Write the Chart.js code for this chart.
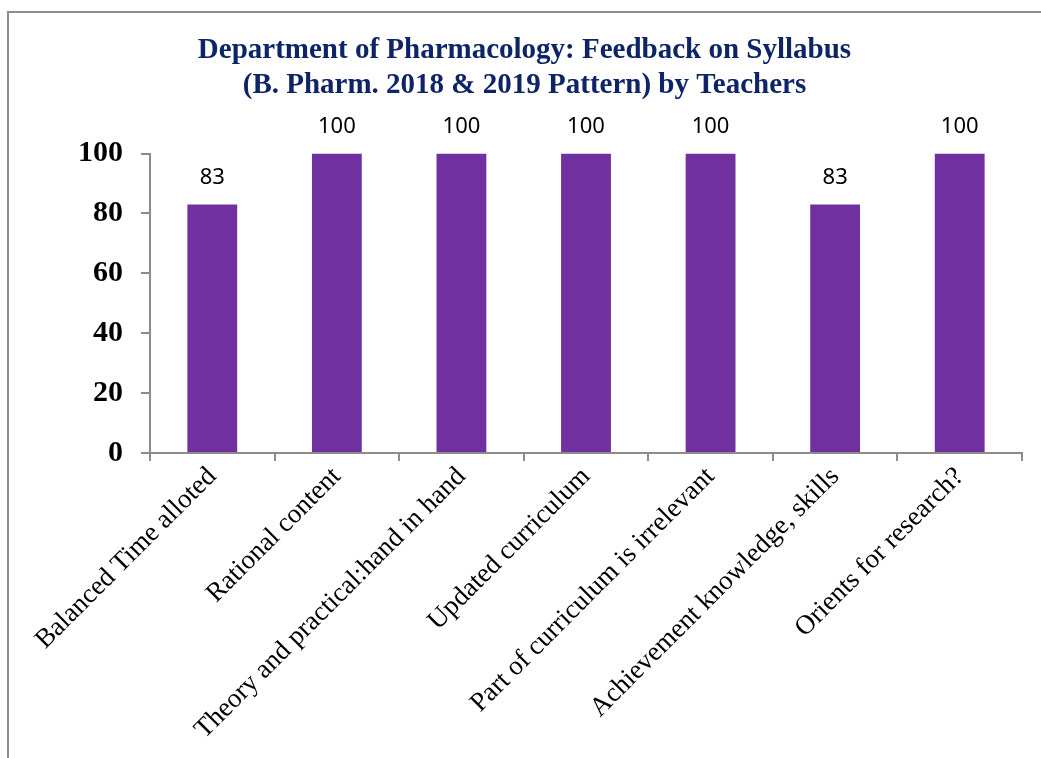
<!DOCTYPE html>
<html>
<head>
<meta charset="utf-8">
<script src="https://cdn.jsdelivr.net/npm/chart.js@4/dist/chart.umd.min.js"></script>
<style>
  html, body { margin: 0; padding: 0; background: #fff; }
  #wrap { position: relative; width: 1041px; height: 758px; }
</style>
</head>
<body>
<div id="wrap"><canvas id="chart" width="1041" height="758"></canvas></div>
<script>
const categories = [
  'Balanced Time alloted',
  'Rational content',
  'Theory and practical:hand in hand',
  'Updated curriculum',
  'Part of curriculum is irrelevant',
  'Achievement knowledge, skills',
  'Orients for research?'
]
const scores = [83, 100, 100, 100, 100, 83, 100]
const titleLines = [
  'Department of Pharmacology: Feedback on Syllabus',
  '(B. Pharm. 2018 & 2019 Pattern) by Teachers'
]

const serif = "'Liberation Serif', 'Times New Roman', serif"
const axisGrey = '#8c8c8c'

// value labels above each bar
const valueLabels = {
  id: 'valueLabels',
  afterDatasetsDraw(chart) {
    const ctx = chart.ctx
    const meta = chart.getDatasetMeta(0)
    ctx.save()
    ctx.font = "22px 'Noto Sans', sans-serif"
    ctx.fillStyle = '#000'
    ctx.textAlign = 'center'
    ctx.textBaseline = 'middle'
    meta.data.forEach((bar, i) => {
      ctx.fillText(String(scores[i]), bar.x, bar.y - 27)
    })
    ctx.restore()
  }
}

// the frame line on the left and top
const frame = {
  id: 'frame',
  beforeDraw(chart) {
    const ctx = chart.ctx
    ctx.save()
    ctx.strokeStyle = '#8c8c8c'
    ctx.lineWidth = 2
    ctx.beginPath()
    ctx.moveTo(8, 758)
    ctx.lineTo(8, 12)
    ctx.lineTo(1041, 12)
    ctx.stroke()
    ctx.restore()
  }
}

new Chart(document.getElementById('chart'), {
  type: 'bar',
  data: {
    labels: categories,
    datasets: [{
      data: scores,
      backgroundColor: '#7030A0',
      barPercentage: 0.4,
      categoryPercentage: 1.0
    }]
  },
  options: {
    responsive: false,
    animation: false,
    layout: { padding: { left: 27, right: 19, top: 0, bottom: 0 } },
    plugins: {
      legend: { display: false },
      tooltip: { enabled: false },
      title: {
        display: true,
        text: titleLines,
        color: '#0d2566',
        font: { family: serif, size: 29, weight: 'bold', lineHeight: 1.2 },
        padding: { top: 33, bottom: 51 }
      }
    },
    scales: {
      x: {
        grid: { drawOnChartArea: false, offset: true, tickLength: 8, color: axisGrey, lineWidth: 2 },
        border: { color: axisGrey, width: 2 },
        ticks: {
          color: '#000',
          font: { family: serif, size: 27 },
          maxRotation: 45,
          minRotation: 45,
          padding: 0
        },
        afterFit(scale) { scale.height = 758 - 453 }
      },
      y: {
        min: 0,
        max: 100,
        ticks: {
          stepSize: 20,
          color: '#000',
          font: { family: serif, size: 30, weight: 'bold' },
          padding: 18
        },
        grid: { drawOnChartArea: false, tickLength: 9, color: axisGrey, lineWidth: 2 },
        border: { color: axisGrey, width: 2 },
        afterFit(scale) { scale.width = 123 }
      }
    }
  },
  plugins: [frame, valueLabels]
})
</script>
</body>
</html>
